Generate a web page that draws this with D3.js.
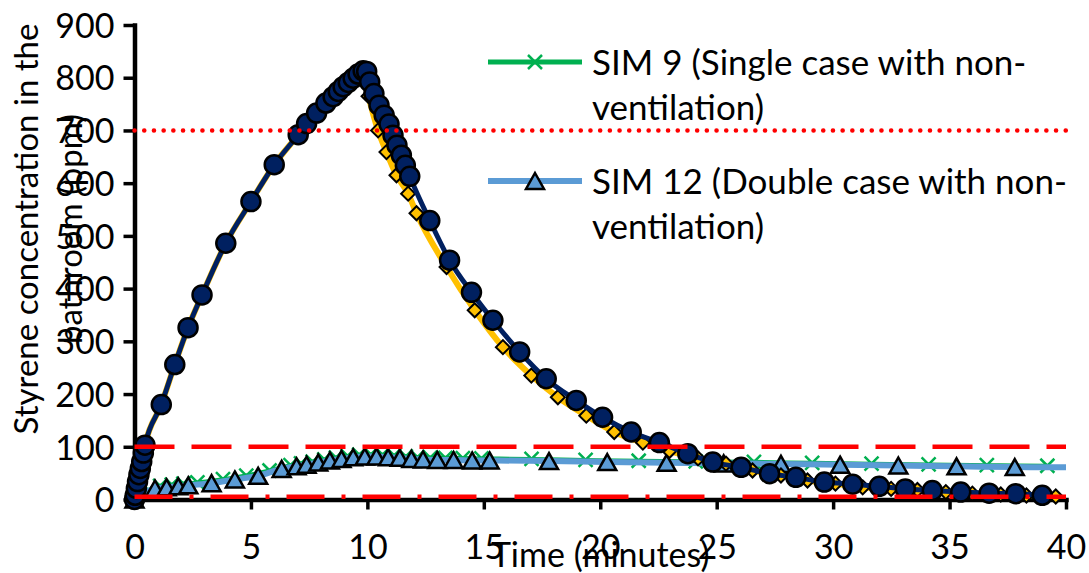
<!DOCTYPE html>
<html><head><meta charset="utf-8">
<script src="https://cdn.jsdelivr.net/npm/d3@7"></script>
<style>
html,body{margin:0;padding:0;background:#fff;}
svg{display:block;font-family:Lato,"Open Sans",sans-serif;}
</style>
</head><body>
<svg id="chart" width="1089" height="573"></svg>
<script>
// ---------- DATA ----------
const xTicks = [0, 5, 10, 15, 20, 25, 30, 35, 40];
const yTicks = [0, 100, 200, 300, 400, 500, 600, 700, 800, 900];

// dark navy circles series
const navyTime = [0, 0.03, 0.08, 0.13, 0.19, 0.25, 0.31, 0.38, 0.45, 1.15, 1.73, 2.3, 2.9, 3.92, 5.0, 6.0,
  7.03, 7.39, 7.82, 8.22, 8.53, 8.75, 8.96, 9.18, 9.39, 9.6, 9.82, 9.97,
  10.1, 10.28, 10.5, 10.72, 10.93, 11.1, 11.27, 11.46, 11.63, 11.82,
  12.68, 13.53, 14.47, 15.39, 16.54, 17.68, 18.97, 20.1, 21.33, 22.54, 23.76,
  24.83, 26.05, 27.27, 28.4, 29.62, 30.84, 31.98, 33.1, 34.26, 35.48, 36.7, 37.84, 38.98];
const navyValue = [0, 8, 21, 34, 47, 59, 72, 88, 103, 180, 256, 326, 388, 486, 565, 635,
  692, 713, 733, 752, 764, 774, 783, 791, 799, 807, 813, 812,
  792, 770, 748, 729, 712, 691, 672, 653, 634, 613,
  529, 454, 393, 340, 280, 229, 188, 156, 128, 108, 87,
  71, 61, 49, 42, 33, 29, 25, 20, 17, 14, 12, 11, 8];

// yellow diamonds series
const yellowTime = [0, 0.08, 0.19, 0.31, 0.45, 1.15, 1.73, 2.3, 2.9, 3.92, 5.0, 6.0,
  7.03, 7.39, 7.82, 8.22, 8.53, 8.96, 9.39, 9.82,
  10.05, 10.46, 10.82, 11.25, 11.75, 12.11, 13.4, 14.61, 15.82, 17.04, 18.18, 19.4, 20.6,
  21.83, 22.97, 24.2, 25.4, 26.54, 27.76, 28.9, 30.1, 31.27, 32.49, 33.62, 34.84, 35.98, 37.2, 38.3, 39.56];
const yellowValue = [0, 21, 47, 72, 103, 180, 256, 326, 388, 486, 565, 635,
  692, 713, 733, 752, 764, 783, 799, 810,
  765, 700, 659, 615, 580, 543, 441, 359, 289, 235, 194, 159, 128,
  108, 92, 78, 68, 55, 45.5, 36, 30, 23, 20, 18, 14, 11, 9.5, 7.6, 5.7];

// SIM 12 (blue triangles)
const sim12Time = [0, 0.88, 1.38, 1.88, 2.31, 3.31, 4.31, 5.31, 6.32, 6.96, 7.39, 7.89, 8.39, 8.89, 9.39,
  9.89, 10.39, 10.89, 11.39, 11.89, 12.39, 13.0, 13.7, 14.5, 15.25, 17.8, 20.3, 22.85, 25.3, 27.76,
  30.3, 32.8, 35.3, 37.8, 40];
const sim12Value = [0, 21, 23, 25, 27, 31, 38, 45, 58, 63, 66, 70, 74, 77, 80,
  81.5, 81.5, 80, 79, 77, 76, 75, 75, 74, 74, 73, 71, 69.5, 68.5, 67.5,
  66, 64.5, 63, 61.5, 61];

// SIM 9 (green crosses)
const sim9Time = [0, 0.6, 1.1, 1.6, 2.1, 2.7, 3.8, 4.8, 5.8, 6.7, 7.15, 7.65, 8.15, 8.65, 9.15, 9.65,
  10.15, 10.65, 11.15, 11.65, 12.15, 12.7, 13.35, 14.1, 14.9, 17.05, 19.37, 21.65, 24.1, 26.6,
  29.1, 31.65, 34.1, 36.6, 39.2];
const sim9Value = [0, 18, 26, 28, 30, 32.5, 38.5, 45.5, 55, 65, 68.5, 72, 76, 79.5, 82.5, 85,
  85.5, 85, 83.5, 82, 80.5, 79.5, 79, 78.5, 78, 77, 75, 73.5, 72.5, 71.5,
  69.5, 68, 66.5, 65, 64];

// reference (limit) lines
const refLevels = [700, 100, 5];

const legendLabels = [
  ["SIM 9 (Single case with non-", "ventilation)"],
  ["SIM 12 (Double case with non-", "ventilation)"]
];
const xTitle = "Time (minutes)";
const yTitle = ["Styrene concentration in the", "bathroom (ppm)"];

// ---------- CHART ----------
const svg = d3.select("#chart");
const x = d3.scaleLinear().domain([0, 40]).range([134.5, 1066]);
const y = d3.scaleLinear().domain([0, 900]).range([499.5, 25]);

const C = {
  navy: "#002060", yellow: "#FFC000", blue: "#5B9BD5", green: "#00B050", red: "#FF0000"
};

// axes
const gy = svg.append("g").attr("transform", `translate(${x(0)},0)`)
  .call(d3.axisLeft(y).tickValues(yTicks).tickSize(11).tickSizeOuter(0).tickPadding(9));
const gx = svg.append("g").attr("transform", `translate(0,${y(0)})`)
  .call(d3.axisBottom(x).tickValues(xTicks).tickSize(10).tickSizeOuter(0));
[gx, gy].forEach(g => {
  g.select(".domain").attr("stroke", "#000").attr("stroke-width", 4.5).attr("stroke-linecap", "square");
  g.selectAll(".tick line").attr("stroke", "#000").attr("stroke-width", 3.5);
  g.selectAll(".tick text").attr("fill", "#000").style("font-size", "34px").style("font-family", "Lato");
});
gx.selectAll(".tick text").attr("y", 59.5).attr("dy", 0);
gy.selectAll(".tick text").attr("dy", "0.36em");

// axis titles
svg.append("text")
  .attr("transform", `translate(${x(20)},567)`)
  .attr("text-anchor", "middle").style("font-size", "34px").text(xTitle);
yTitle.forEach((t, i) => {
  svg.append("text")
    .attr("transform", `translate(${i === 0 ? 38 : 82},229) rotate(-90)`)
    .attr("text-anchor", "middle").style("font-size", "33px").text(t);
});

// helpers
const zip = (ts, vs) => ts.map((t, i) => ({t, v: vs[i]}));
const line = d3.line().x(d => x(d.t)).y(d => y(d.v)).curve(d3.curveMonotoneX);

function crossPath(s) { return `M${-s},${-s}L${s},${s}M${-s},${s}L${s},${-s}`; }
function triPath(w, h) { return `M0,${-h/2}L${w/2},${h/2}L${-w/2},${h/2}Z`; }
const diamondPath = d3.symbol(d3.symbolSquare, 98)();

const sim9 = zip(sim9Time, sim9Value);
const sim12 = zip(sim12Time, sim12Value);
const yellow = zip(yellowTime, yellowValue);
const navy = zip(navyTime, navyValue);

// SIM 9
svg.append("path").datum(sim9).attr("d", line).attr("fill", "none")
  .attr("stroke", C.green).attr("stroke-width", 4);
svg.append("g").selectAll("path").data(sim9).join("path")
  .attr("transform", d => `translate(${x(d.t)},${y(d.v)})`)
  .attr("d", crossPath(7)).attr("stroke", C.green).attr("stroke-width", 2.5).attr("fill", "none");

// SIM 12
svg.append("path").datum(sim12).attr("d", line).attr("fill", "none")
  .attr("stroke", C.blue).attr("stroke-width", 6);
svg.append("g").selectAll("path").data(sim12.filter(d => d.t < 40)).join("path")
  .attr("transform", d => `translate(${x(d.t)},${y(d.v)})`)
  .attr("d", triPath(18, 16)).attr("fill", C.blue).attr("stroke", "#000").attr("stroke-width", 2.5)
  .attr("stroke-linejoin", "miter");

// yellow diamonds
svg.append("path").datum(yellow).attr("d", line).attr("fill", "none")
  .attr("stroke", C.yellow).attr("stroke-width", 6);
svg.append("g").selectAll("path").data(yellow).join("path")
  .attr("transform", d => `translate(${x(d.t)},${y(d.v)}) rotate(45)`)
  .attr("d", diamondPath).attr("fill", C.yellow).attr("stroke", "#000").attr("stroke-width", 2);

// navy circles
svg.append("path").datum(navy).attr("d", line).attr("fill", "none")
  .attr("stroke", C.navy).attr("stroke-width", 5);
svg.append("g").selectAll("circle").data(navy).join("circle")
  .attr("cx", d => x(d.t)).attr("cy", d => y(d.v)).attr("r", 9.5)
  .attr("fill", C.navy).attr("stroke", "#000").attr("stroke-width", 2.5);

// reference lines
const refDash = ["0.1 9.6", "40 17", "38 17 4 17"];
const refCap = ["round", "butt", "butt"];
refLevels.forEach((lv, i) => {
  svg.append("line")
    .attr("x1", x(0)).attr("x2", x(40)).attr("y1", y(lv)).attr("y2", y(lv))
    .attr("stroke", C.red).attr("stroke-width", 4.5)
    .attr("stroke-dasharray", refDash[i]).attr("stroke-linecap", refCap[i]);
});

// legend
const legY = [62, 181];
const leg = svg.append("g");
legendLabels.forEach((lab, i) => {
  const yy = legY[i];
  leg.append("line").attr("x1", 488).attr("x2", 582).attr("y1", yy).attr("y2", yy)
    .attr("stroke", i === 0 ? C.green : C.blue).attr("stroke-width", i === 0 ? 5 : 6);
  if (i === 0) {
    leg.append("path").attr("transform", `translate(535,${yy})`).attr("d", crossPath(7))
      .attr("stroke", C.green).attr("stroke-width", 2.5);
  } else {
    leg.append("path").attr("transform", `translate(535,${yy})`).attr("d", triPath(18, 16))
      .attr("fill", C.blue).attr("stroke", "#000").attr("stroke-width", 2.5);
  }
  lab.forEach((t, j) => {
    leg.append("text").attr("x", 592).attr("y", yy + 12.5 + j * 45)
      .style("font-size", "35px").attr("fill", "#000").text(t);
  });
});
</script>
</body></html>
